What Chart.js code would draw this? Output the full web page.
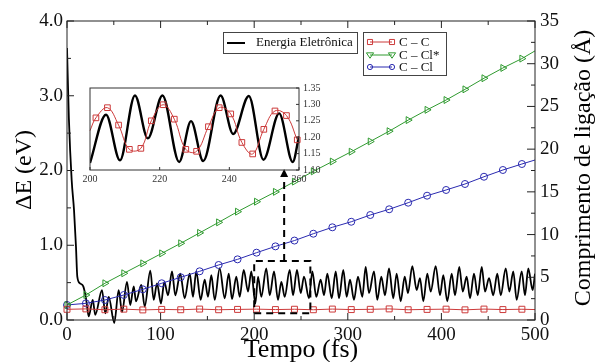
<!DOCTYPE html>
<html>
<head>
<meta charset="utf-8">
<script src="https://cdn.jsdelivr.net/npm/chart.js@4.4.1/dist/chart.umd.min.js"></script>
<style>
  html, body { margin: 0; padding: 0; background: #fff; }
  #wrap { position: relative; width: 596px; height: 362px; }
  #main { position: absolute; left: 0; top: 0; }
  #inset { position: absolute; left: 75px; top: 78px; }
</style>
</head>
<body>
<div id="wrap">
  <canvas id="main" width="596" height="362"></canvas>
  <canvas id="inset" width="255" height="108"></canvas>
</div>
<script>
// electronic energy (eV) vs time (fs)
const energyTime = [
  0, 2, 5, 7.5, 9.6, 11, 13.9, 17.4, 20.3, 23.2, 27.5, 30.2, 37.4, 40.9, 44.6, 50.5,
  55.2, 58.8, 64.1, 67.6, 71.3, 73.7, 79.4, 83.0, 89.0, 92.6, 96.2, 100.4, 104.0, 107.9,
  112.2, 115.7, 121.0, 125.7, 131.1, 134.6, 138.1, 142.8, 147.1, 150.6, 154.2, 157.8,
  163.1, 168.5, 172.8, 176.3, 180.9, 184.5, 188.8, 193.4, 196.9, 201.2, 204.1, 207.6,
  212.9, 216.6, 221.2, 225.4, 229.0, 232.6, 237.9, 241.5, 245.7, 249.7, 253.2, 258.5,
  262.1, 266.3, 271.0, 274.6, 278.1, 282.8, 287.1, 290.6, 295.2, 298.8, 302.4, 306.6,
  310.9, 315.5, 319.1, 322.6, 328.0, 331.5, 335.8, 339.7, 344.0, 348.6, 352.2, 356.5,
  360.8, 364.3, 368.9, 373.6, 377.1, 380.7, 384.9, 388.6, 393.9, 398.5, 402.0, 406.3,
  411.0, 414.5, 419.1, 422.8, 427.0, 430.6, 434.8, 438.8, 443.1, 446.6, 450.9, 455.4,
  459.7, 463.4, 468.7, 472.6, 476.8, 480.4, 485.8, 489.3, 492.8, 497.5, 500
];
const energyValues = [
  3.64, 2.7, 1.87, 1.47, 0.98, 0.58, 0.49, 0.45, 0.29, 0.05, 0.27, 0.07, 0.40, 0.09, 0.31, -0.04,
  0.40, 0.11, 0.51, 0.20, 0.45, 0.25, 0.47, 0.18, 0.66, 0.27, 0.49, 0.22, 0.51, 0.33,
  0.65, 0.33, 0.62, 0.29, 0.62, 0.31, 0.65, 0.27, 0.54, 0.31, 0.60, 0.27,
  0.69, 0.29, 0.62, 0.28, 0.58, 0.31, 0.67, 0.38, 0.65, 0.22, 0.58, 0.31,
  0.69, 0.33, 0.65, 0.27, 0.51, 0.31, 0.67, 0.33, 0.67, 0.36, 0.58, 0.29,
  0.65, 0.31, 0.54, 0.33, 0.62, 0.29, 0.65, 0.29, 0.67, 0.31, 0.54, 0.27,
  0.58, 0.31, 0.71, 0.36, 0.65, 0.27, 0.58, 0.33, 0.69, 0.29, 0.62, 0.25,
  0.58, 0.36, 0.72, 0.40, 0.56, 0.25, 0.62, 0.38, 0.72, 0.33, 0.60, 0.25,
  0.62, 0.33, 0.71, 0.38, 0.58, 0.29, 0.62, 0.33, 0.71, 0.38, 0.56, 0.33,
  0.62, 0.33, 0.69, 0.38, 0.65, 0.27, 0.65, 0.33, 0.69, 0.40, 0.62
];

// bond lengths (Å), one marker roughly every 20 fs
const bondTime = [0, 20.2, 40.5, 60.7, 81, 101.2, 121.5, 141.7, 162, 182.2, 202.5, 222.7, 243,
  263.2, 283.5, 303.7, 324, 344.2, 364.5, 384.7, 405, 425.2, 445.5, 465.7, 486, 500];
const ccLength = [1.25, 1.3, 1.2, 1.27, 1.18, 1.24, 1.2, 1.28, 1.2, 1.24, 1.27, 1.22, 1.26,
  1.2, 1.28, 1.22, 1.25, 1.3, 1.2, 1.24, 1.27, 1.19, 1.28, 1.22, 1.26, 1.22];
const cclStarLength = [1.76, 2.93, 4.3, 5.47, 6.63, 7.8, 8.98, 10.2, 11.43, 12.68, 13.85, 15.0, 16.2,
  17.4, 18.55, 19.7, 20.9, 22.1, 23.4, 24.6, 25.75, 27.0, 28.3, 29.5, 30.6, 31.5];
const cclLength = [1.76, 1.95, 2.34, 2.93, 3.59, 4.3, 5.0, 5.7, 6.44, 7.1, 7.88, 8.62, 9.3,
  10.1, 10.85, 11.5, 12.29, 12.96, 13.73, 14.55, 15.22, 15.92, 16.77, 17.56, 18.26, 18.73];

// zoomed window 200-260 fs (inset)
const insetTime = [200.0, 204.6, 208.6, 212.9, 216.6, 220.8, 225.6, 229.0, 232.5, 237.5, 241.1,
  245.6, 249.8, 254.3, 258.2, 260.0];
const insetEnergy = [0.247, 0.571, 0.265, 0.700, 0.412, 0.700, 0.254, 0.528, 0.260, 0.700, 0.441,
  0.696, 0.269, 0.580, 0.254, 0.426];
const insetBondTime = [200, 201.7, 205.0, 208.2, 211.3, 214.6, 217.6, 221.0, 224.2, 227.5, 230.6,
  234.0, 237.1, 240.4, 243.6, 246.7, 249.9, 253.1, 256.4, 259.5];
const insetCC = [1.22, 1.259, 1.290, 1.237, 1.163, 1.166, 1.25, 1.299, 1.255, 1.163, 1.157,
  1.232, 1.290, 1.271, 1.184, 1.149, 1.224, 1.28, 1.266, 1.192];

// dashed zoom box and arrow (data units)
const zoomBoxTime = [200, 260, 260, 200, 200];
const zoomBoxEnergy = [0.09, 0.09, 0.79, 0.79, 0.09];
const arrowTime = 232;
const arrowEnergy = [0.79, 2.02];

const SERIF = '"Liberation Serif", "Times New Roman", serif';
const RED = '#cc3a3a';
const GREEN = '#2f9a2f';
const BLUE = '#2a2ab0';

const pts = (xs, ys) => xs.map((x, i) => ({ x: x, y: ys[i] }));
const markerRadius = (r) => bondTime.map((t, i) => i === bondTime.length - 1 ? 0 : r);

function marker(ctx, style, x, y, r) {
  ctx.beginPath();
  if (style === 'rect') {
    const s = r * Math.SQRT1_2;
    ctx.rect(x - s, y - s, 2 * s, 2 * s);
  } else if (style === 'circle') {
    ctx.arc(x, y, r, 0, Math.PI * 2);
  } else {
    ctx.moveTo(x - r, y - r * 0.6);
    ctx.lineTo(x + r, y - r * 0.6);
    ctx.lineTo(x, y + r * 0.9);
    ctx.closePath();
  }
  ctx.stroke();
}

const mainDecor = {
  id: 'mainDecor',
  afterDraw(chart) {
    const { ctx, chartArea: a, scales } = chart;
    const x = scales.x, y = scales.y, y2 = scales.y2;
    ctx.save();

    // frame + inward ticks
    ctx.strokeStyle = '#222';
    ctx.lineWidth = 1;
    ctx.strokeRect(a.left, a.top, a.right - a.left, a.bottom - a.top);
    ctx.beginPath();
    for (let v = 0; v <= 500; v += 50) {
      const px = x.getPixelForValue(v);
      const len = v % 100 === 0 ? 7 : 4;
      ctx.moveTo(px, a.bottom); ctx.lineTo(px, a.bottom - len);
      ctx.moveTo(px, a.top); ctx.lineTo(px, a.top + len);
    }
    for (let v = 0; v <= 4; v += 0.5) {
      const py = y.getPixelForValue(v);
      ctx.moveTo(a.left, py); ctx.lineTo(a.left + (v % 1 === 0 ? 7 : 4), py);
    }
    for (let v = 0; v <= 35; v += 2.5) {
      const py = y2.getPixelForValue(v);
      ctx.moveTo(a.right, py); ctx.lineTo(a.right - (v % 5 === 0 ? 8 : 4), py);
    }
    ctx.stroke();

    // dashed arrow towards the inset
    const ax = x.getPixelForValue(arrowTime);
    const ay0 = y.getPixelForValue(arrowEnergy[0]);
    const ay1 = y.getPixelForValue(arrowEnergy[1]);
    ctx.strokeStyle = '#000';
    ctx.lineWidth = 2;
    ctx.setLineDash([7, 5]);
    ctx.beginPath();
    ctx.moveTo(ax, ay0); ctx.lineTo(ax, ay1 + 6);
    ctx.stroke();
    ctx.setLineDash([]);
    ctx.fillStyle = '#000';
    ctx.beginPath();
    ctx.moveTo(ax, ay1); ctx.lineTo(ax - 4, ay1 + 8); ctx.lineTo(ax + 4, ay1 + 8);
    ctx.closePath();
    ctx.fill();

    // legend boxes
    ctx.lineWidth = 1;
    ctx.strokeStyle = '#444';
    ctx.fillStyle = '#fff';
    ctx.fillRect(223, 32, 134, 21); ctx.strokeRect(223.5, 32.5, 134, 21);
    ctx.fillRect(363, 32, 83, 43); ctx.strokeRect(363.5, 32.5, 83, 43);
    ctx.strokeStyle = '#000';
    ctx.lineWidth = 2;
    ctx.beginPath(); ctx.moveTo(227, 43); ctx.lineTo(245, 43); ctx.stroke();
    ctx.fillStyle = '#111';
    ctx.font = '13px ' + SERIF;
    ctx.textBaseline = 'middle';
    ctx.textAlign = 'left';
    ctx.fillText('Energia Eletrônica', 256, 43);
    const entries = [
      ['C – C', RED, 'rect', 42],
      ['C – Cl*', GREEN, 'tri', 55],
      ['C – Cl', BLUE, 'circle', 67]
    ];
    entries.forEach(([label, color, style, ly]) => {
      ctx.strokeStyle = color;
      ctx.lineWidth = 1;
      ctx.beginPath(); ctx.moveTo(370, ly); ctx.lineTo(392, ly); ctx.stroke();
      marker(ctx, style, 370, ly, style === 'circle' ? 2.6 : 3.6);
      marker(ctx, style, 392, ly, style === 'circle' ? 2.6 : 3.6);
      ctx.fillStyle = '#111';
      ctx.fillText(label, 399, ly + 1);
    });

    // axis titles
    ctx.fillStyle = '#000';
    ctx.font = '26px ' + SERIF;
    ctx.textAlign = 'center';
    ctx.textBaseline = 'alphabetic';
    ctx.fillText('Tempo (fs)', (a.left + a.right) / 2, 357);
    ctx.font = '24px ' + SERIF;
    ctx.save();
    ctx.translate(31, 170);
    ctx.rotate(-Math.PI / 2);
    ctx.fillText('ΔE (eV)', 0, 0);
    ctx.restore();
    ctx.save();
    ctx.translate(590, 168);
    ctx.rotate(-Math.PI / 2);
    ctx.fillText('Comprimento de ligação (Å)', 0, 0);
    ctx.restore();

    ctx.restore();
  }
};

const tickFont = { family: SERIF, size: 19 };

new Chart(document.getElementById('main'), {
  type: 'line',
  data: {
    datasets: [
      {
        label: 'Energia Eletrônica',
        data: pts(energyTime, energyValues),
        yAxisID: 'y',
        borderColor: '#000',
        borderWidth: 1.8,
        pointRadius: 0,
        cubicInterpolationMode: 'monotone',
        clip: { left: 0, top: 0, right: 0, bottom: 6 },
        order: 2
      },
      {
        label: 'C – C',
        data: pts(bondTime, ccLength),
        yAxisID: 'y2',
        borderColor: RED,
        borderWidth: 1,
        pointStyle: 'rect',
        pointRadius: markerRadius(4.2),
        pointBorderColor: RED,
        pointBackgroundColor: 'rgba(0,0,0,0)',
        pointBorderWidth: 1,
        clip: 8,
        order: 1
      },
      {
        label: 'C – Cl*',
        data: pts(bondTime, cclStarLength),
        yAxisID: 'y2',
        borderColor: GREEN,
        borderWidth: 1,
        pointStyle: 'triangle',
        pointRotation: 90,
        pointRadius: markerRadius(4),
        pointBorderColor: GREEN,
        pointBackgroundColor: 'rgba(0,0,0,0)',
        pointBorderWidth: 1,
        clip: 8,
        order: 1
      },
      {
        label: 'C – Cl',
        data: pts(bondTime, cclLength),
        yAxisID: 'y2',
        borderColor: BLUE,
        borderWidth: 1,
        pointStyle: 'circle',
        pointRadius: markerRadius(3.5),
        pointBorderColor: BLUE,
        pointBackgroundColor: 'rgba(0,0,0,0)',
        pointBorderWidth: 1,
        clip: 8,
        order: 1
      },
      {
        label: 'zoom',
        data: pts(zoomBoxTime, zoomBoxEnergy),
        yAxisID: 'y',
        borderColor: '#000',
        borderWidth: 2,
        borderDash: [7, 5],
        pointRadius: 0,
        tension: 0,
        order: 0
      }
    ]
  },
  options: {
    responsive: false,
    animation: false,
    events: [],
    layout: { padding: { top: 21 } },
    plugins: { legend: { display: false }, tooltip: { enabled: false } },
    scales: {
      x: {
        type: 'linear', min: 0, max: 500,
        afterFit: s => { s.height = 42; },
        grid: { display: false, drawTicks: false },
        border: { display: false },
        ticks: { stepSize: 100, autoSkip: false, maxRotation: 0, padding: 4, color: '#111', font: tickFont }
      },
      y: {
        position: 'left', min: 0, max: 4,
        afterFit: s => { s.width = 67; },
        grid: { display: false, drawTicks: false },
        border: { display: false },
        ticks: { stepSize: 1, padding: 4, color: '#111', font: tickFont, callback: v => v.toFixed(1) }
      },
      y2: {
        position: 'right', min: 0, max: 35,
        afterFit: s => { s.width = 61; },
        grid: { display: false, drawTicks: false },
        border: { display: false },
        ticks: { stepSize: 5, padding: 5, color: '#111', font: tickFont }
      }
    }
  },
  plugins: [mainDecor]
});

const insetDecor = {
  id: 'insetDecor',
  afterDraw(chart) {
    const { ctx, chartArea: a, scales } = chart;
    ctx.save();
    ctx.strokeStyle = '#333';
    ctx.lineWidth = 1;
    ctx.strokeRect(a.left, a.top, a.right - a.left, a.bottom - a.top);
    ctx.beginPath();
    for (let v = 1.1; v <= 1.351; v += 0.05) {
      const py = scales.y.getPixelForValue(v);
      ctx.moveTo(a.right, py); ctx.lineTo(a.right - 3, py);
    }
    for (let v = 200; v <= 260; v += 20) {
      const px = scales.x.getPixelForValue(v);
      ctx.moveTo(px, a.bottom); ctx.lineTo(px, a.bottom - 3);
    }
    ctx.stroke();
    ctx.restore();
  }
};

const insetFont = { family: SERIF, size: 10 };

new Chart(document.getElementById('inset'), {
  type: 'line',
  data: {
    datasets: [
      {
        data: pts(insetTime, insetEnergy),
        yAxisID: 'e',
        borderColor: '#000',
        borderWidth: 2.4,
        pointRadius: 0,
        cubicInterpolationMode: 'monotone',
        order: 1
      },
      {
        data: pts(insetBondTime, insetCC),
        yAxisID: 'y',
        borderColor: RED,
        borderWidth: 1,
        tension: 0.4,
        pointStyle: 'rect',
        pointRadius: insetBondTime.map((t, i) => i === 0 ? 0 : 4),
        pointBorderColor: RED,
        pointBackgroundColor: 'rgba(0,0,0,0)',
        pointBorderWidth: 1,
        clip: 6,
        order: 0
      }
    ]
  },
  options: {
    responsive: false,
    animation: false,
    events: [],
    layout: { padding: { top: 7, left: 15 } },
    plugins: { legend: { display: false }, tooltip: { enabled: false } },
    scales: {
      x: {
        type: 'linear', min: 200, max: 260,
        afterFit: s => { s.height = 16; },
        grid: { display: false, drawTicks: false },
        border: { display: false },
        ticks: { stepSize: 20, autoSkip: false, maxRotation: 0, padding: 3, color: '#333', font: insetFont }
      },
      y: {
        position: 'right', min: 1.1, max: 1.35,
        afterFit: s => { s.width = 31; },
        grid: { display: false, drawTicks: false },
        border: { display: false },
        ticks: { stepSize: 0.05, padding: 4, color: '#333', font: insetFont, callback: v => v.toFixed(2) }
      },
      e: { display: false, min: 0.2, max: 0.75 }
    }
  },
  plugins: [insetDecor]
});
</script>
</body>
</html>
